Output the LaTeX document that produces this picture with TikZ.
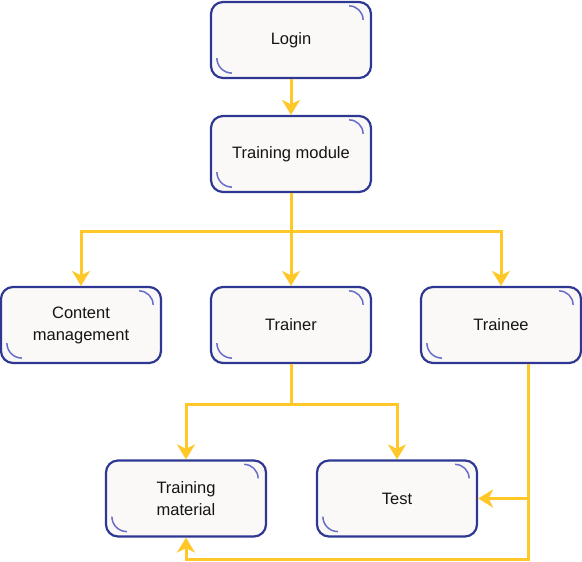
\documentclass[tikz,border=0pt]{standalone}
\usepackage{fontspec}
\setmainfont{Liberation Sans}
\usetikzlibrary{arrows.meta,calc}
\definecolor{bord}{RGB}{46,56,146}
\definecolor{arcc}{RGB}{104,110,200}
\definecolor{boxfill}{RGB}{250,249,248}
\definecolor{conny}{RGB}{255,200,40}
\definecolor{txt}{RGB}{20,20,20}
\begin{document}
\begin{tikzpicture}[x=1pt,y=1pt,
  box/.style={draw=bord,line width=2.2pt,fill=boxfill,rounded corners=12pt,
    minimum width=160pt,minimum height=76pt,align=center,
    font=\fontsize{16.5}{22}\selectfont,text=txt,inner sep=0pt},
  conn/.style={draw=conny,line width=3pt},
  arr/.style={conn,-{Stealth[length=15pt,width=18pt,inset=4.5pt]}},
  deco/.style={draw=arcc,line width=1.5pt}]
\useasboundingbox (0,0) rectangle (582,562);
\newcommand{\corners}[1]{%
  \draw[deco] ($(#1.north east)+(-23,-5)$) arc[start angle=90,end angle=0,radius=14];
  \draw[deco] ($(#1.south west)+(7,21)$) arc[start angle=180,end angle=270,radius=15];}
\node[box] (login) at (291,522) {Login};
\node[box] (tm) at (291,408) {Training module};
\node[box] (content) at (81,237) {Content\\management};
\node[box] (trainer) at (291,237) {Trainer};
\node[box] (trainee) at (501,237) {Trainee};
\node[box] (material) at (186,63.5) {Training\\material};
\node[box] (test) at (397,63.5) {Test};
\foreach \n in {login,tm,content,trainer,trainee,material,test}{\corners{\n}}
\draw[arr] (login.south) -- (tm.north);
\draw[arr] (tm.south) -- ++(0,-38) -| (content.north);
\draw[arr] (tm.south) -- (trainer.north);
\draw[arr] (tm.south) -- ++(0,-38) -| (trainee.north);
\draw[arr] (trainer.south) -- ++(0,-40) -| (material.north);
\draw[arr] (trainer.south) -- ++(0,-40) -| (test.north);
\coordinate (tb) at ($(trainee.south)+(27,0)$);
\coordinate (bot) at (528,2);
\draw[arr] (tb) |- (test.east);
\draw[arr] (tb) -- (bot) -| (material.south);
\end{tikzpicture}
\end{document}
